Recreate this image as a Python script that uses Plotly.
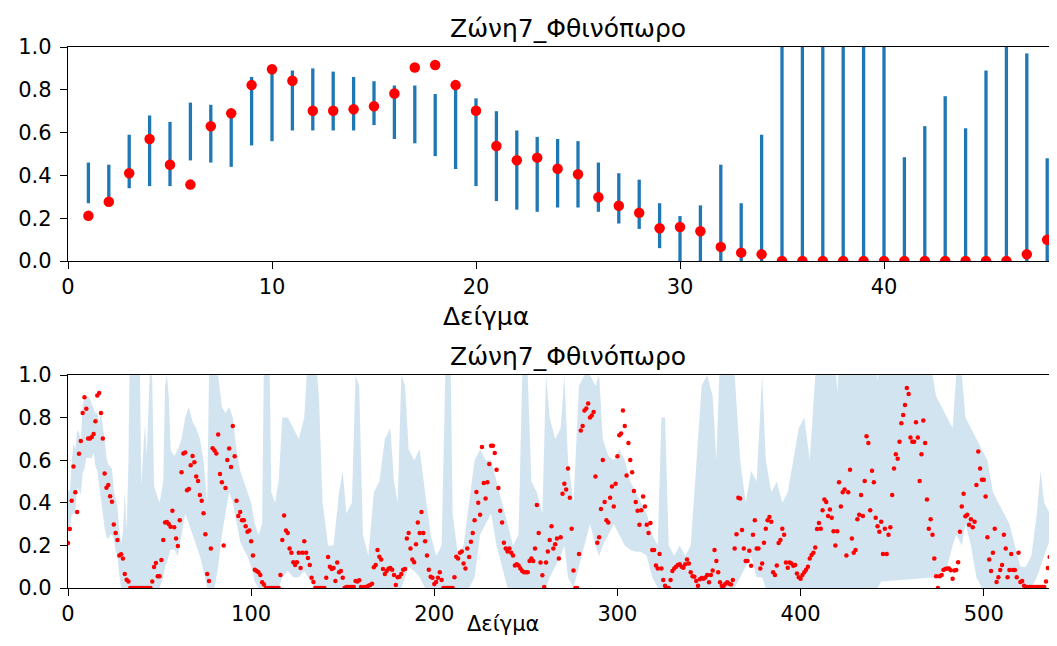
import plotly.graph_objects as go

# ---------------- data: top panel (samples 1..48) ----------------
top_x = list(range(1, 49))
top_mean = [0.211, 0.277, 0.41, 0.57, 0.45, 0.357, 0.63, 0.69, 0.822, 0.896,
            0.842, 0.702, 0.702, 0.709, 0.723, 0.783, 0.904, 0.916, 0.822, 0.702,
            0.537, 0.471, 0.483, 0.431, 0.405, 0.298, 0.258, 0.225, 0.153, 0.159,
            0.139, 0.066, 0.039, 0.031, 0.0, 0.0, 0.0, 0.0, 0.0, 0.0,
            0.0, 0.0, 0.0, 0.0, 0.0, 0.0, 0.031, 0.099]
top_lo = [0.27, 0.28, 0.34, 0.35, 0.35, 0.47, 0.46, 0.44, 0.54, 0.56,
          0.61, 0.61, 0.61, 0.61, 0.635, 0.57, 0.55, 0.49, 0.43, 0.35,
          0.28, 0.24, 0.23, 0.25, 0.25, 0.23, 0.175, 0.15, 0.06, 0.0,
          0.0, 0.0, 0.0, 0.0, 0.0, 0.0, 0.0, 0.0, 0.0, 0.0,
          0.0, 0.0, 0.0, 0.0, 0.0, 0.0, 0.0, 0.0]
top_hi = [0.46, 0.45, 0.59, 0.68, 0.65, 0.74, 0.73, 0.69, 0.86, 0.89,
          0.89, 0.90, 0.885, 0.86, 0.84, 0.82, 0.82, 0.78, 0.82, 0.76,
          0.70, 0.61, 0.58, 0.57, 0.56, 0.46, 0.41, 0.38, 0.27, 0.21,
          0.26, 0.45, 0.27, 0.59, 1.3, 1.25, 1.35, 1.2, 1.3, 1.25,
          0.485, 0.63, 0.77, 0.62, 0.89, 1.1, 0.97, 0.48]

# ---------------- data: bottom panel (samples 0..539) ----------------
bottom_mean = [
    0.211, 0.277, 0.41, 0.57, 0.45, 0.357, 0.63, 0.69, 0.822, 0.896,
    0.842, 0.702, 0.702, 0.709, 0.723, 0.783, 0.904, 0.916, 0.822, 0.702,
    0.537, 0.471, 0.483, 0.431, 0.405, 0.298, 0.258, 0.225, 0.153, 0.159,
    0.139, 0.066, 0.039, 0.031, 0.0, 0.0, 0.0, 0.0, 0.0, 0.0,
    0.0, 0.0, 0.0, 0.0, 0.0, 0.0, 0.031, 0.099,
    0.117, 0.055, 0.055, 0.131, 0.225, 0.308, 0.31, 0.30, 0.287, 0.363,
    0.285, 0.232, 0.197, 0.318, 0.543, 0.631, 0.636, 0.459, 0.465, 0.576,
    0.62, 0.59, 0.523, 0.502, 0.437, 0.41, 0.351, 0.252, 0.066, 0.033,
    0.186, 0.656, 0.645, 0.632, 0.721, 0.535, 0.496, 0.199, 0.469, 0.601,
    0.655, 0.568, 0.761, 0.619, 0.41, 0.338, 0.357, 0.318, 0.318, 0.29,
    0.264, 0.27, 0.219, 0.152, 0.086, 0.08, 0.074, 0.061, 0.027, 0.016,
    0.0, 0.0, 0.0, 0.0, 0.0, 0.0, 0.0, 0.0, 0.061, 0.225,
    0.34, 0.27, 0.258, 0.186, 0.166, 0.121, 0.108, 0.121, 0.166, 0.094,
    0.166, 0.219, 0.166, 0.141, 0.108, 0.048, 0.028, 0.0, 0.0, 0.0,
    0.0, 0.0, 0.0, 0.048, 0.146, 0.1, 0.089, 0.094, 0.033, 0.12,
    0.074, 0.08, 0.048, 0.0, 0.005, 0.005, 0.005, 0.005, 0.005, 0.033,
    0.03, 0.036, 0.005, 0.0, 0.005, 0.005, 0.01, 0.014, 0.02, 0.097,
    0.108, 0.178, 0.147, 0.134, 0.089, 0.066, 0.08, 0.09, 0.094, 0.086,
    0.061, 0.014, 0.05, 0.053, 0.066, 0.086, 0.089, 0.232, 0.258, 0.186,
    0.134, 0.121, 0.205, 0.307, 0.258, 0.357, 0.258, 0.219, 0.152, 0.086,
    0.053, 0.048, 0.019, 0.028, 0.048, 0.074, 0.038, 0.0, 0.0, 0.0,
    0.0, 0.0, 0.0, 0.05, 0.147, 0.139, 0.166, 0.171, 0.115, 0.092,
    0.186, 0.146, 0.217, 0.258, 0.318, 0.451, 0.40, 0.344, 0.662, 0.493,
    0.42, 0.496, 0.582, 0.668, 0.668, 0.634, 0.555, 0.469, 0.363, 0.307,
    0.213, 0.186, 0.171, 0.186, 0.166, 0.152, 0.106, 0.111, 0.106, 0.092,
    0.08, 0.074, 0.074, 0.074, 0.127, 0.139, 0.127, 0.186, 0.39, 0.258,
    0.12, 0.06, 0.005, 0.12, 0.171, 0.225, 0.29, 0.186, 0.205, 0.232,
    0.139, 0.238, 0.443, 0.49, 0.463, 0.561, 0.424, 0.278, 0.082, 0.0,
    0.0, 0.16, 0.74, 0.761, 0.833, 0.843, 0.866, 0.8, 0.81, 0.826,
    0.523, 0.213, 0.238, 0.371, 0.601, 0.404, 0.318, 0.307, 0.424, 0.476,
    0.383, 0.49, 0.619, 0.717, 0.725, 0.833, 0.761, 0.528, 0.681, 0.601,
    0.543, 0.455, 0.404, 0.363, 0.297, 0.365, 0.43, 0.383, 0.297, 0.258,
    0.305, 0.178, 0.178, 0.106, 0.092, 0.16, 0.092, 0.038, 0.01, 0.0,
    0.0, 0.038, 0.08, 0.092, 0.1, 0.108, 0.111, 0.1, 0.095, 0.111,
    0.134, 0.115, 0.074, 0.055, 0.053, 0.033, 0.01, 0.041, 0.047, 0.044,
    0.049, 0.061, 0.027, 0.061, 0.082, 0.178, 0.127, 0.074, 0.027, 0.01,
    0.01, 0.02, 0.027, 0.02, 0.016, 0.038, 0.186, 0.252, 0.424, 0.42,
    0.272, 0.186, 0.127, 0.127, 0.175, 0.104, 0.25, 0.318, 0.186, 0.186,
    0.092, 0.115, 0.213, 0.278, 0.318, 0.333, 0.311, 0.074, 0.061, 0.106,
    0.211, 0.225, 0.278, 0.25, 0.12, 0.095, 0.12, 0.115, 0.104, 0.108,
    0.068, 0.05, 0.044, 0.061, 0.074, 0.086, 0.1, 0.138, 0.155, 0.165,
    0.19, 0.277, 0.305, 0.278, 0.365, 0.416, 0.404, 0.338, 0.369, 0.33,
    0.266, 0.199, 0.266, 0.496, 0.383, 0.449, 0.463, 0.152, 0.449, 0.555,
    0.232, 0.166, 0.178, 0.323, 0.344, 0.437, 0.338, 0.502, 0.713, 0.681,
    0.365, 0.55, 0.496, 0.33, 0.29, 0.264, 0.311, 0.16, 0.278, 0.16,
    0.25, 0.285, 0.437, 0.561, 0.628, 0.607, 0.687, 0.773, 0.812, 0.859,
    0.939, 0.911, 0.707, 0.687, 0.687, 0.778, 0.707, 0.502, 0.628, 0.786,
    0.681, 0.416, 0.278, 0.323, 0.25, 0.139, 0.055, 0.0, 0.055, 0.061,
    0.084, 0.089, 0.092, 0.092, 0.083, 0.044, 0.082, 0.084, 0.121, 0.264,
    0.383, 0.443, 0.337, 0.344, 0.297, 0.323, 0.285, 0.311, 0.484, 0.641,
    0.561, 0.508, 0.508, 0.43, 0.238, 0.134, 0.08, 0.166, 0.278, 0.028,
    0.05, 0.084, 0.108, 0.25, 0.186, 0.05, 0.084, 0.16, 0.084, 0.084,
    0.05, 0.166, 0.028, 0.033, 0.01, 0.005, 0.005, 0.005, 0.005, 0.005,
    0.005, 0.005, 0.005, 0.005, 0.005, 0.005, 0.03, 0.094, 0.146, 0.066,
    0.143, 0.29]

band_x = [0, 1, 2, 3, 4, 5, 6, 7, 8, 9, 10, 11, 12, 13, 14, 15, 16, 17, 18, 19,
          20, 21, 22, 23, 24, 25, 26, 27, 28, 29, 30, 31, 32, 33, 34, 35, 36, 37, 38, 39,
          40, 41, 42, 43, 44, 45, 46, 47,
          48, 50, 52, 53, 54, 55, 56, 58, 60, 62, 64, 66, 68, 70, 72, 74, 76, 77, 80, 82,
          84, 86, 88, 90, 92, 94, 96, 98, 100, 102, 104, 106, 107, 110, 111, 113, 115, 117,
          120, 123, 126, 129, 131, 135, 137, 139, 142, 145, 148, 150, 152, 155, 157, 159,
          161, 164, 167, 170, 173, 176, 178, 180, 182, 184, 186, 189, 192, 195, 198, 201,
          204, 206, 209, 210, 213, 216, 219, 222, 225, 228, 231, 234, 237, 240, 243, 246,
          248, 251, 253, 256, 259, 261, 263, 266, 269, 271, 273, 276, 279, 282, 285, 288,
          290, 292, 295, 298, 301, 304, 307, 310, 313, 316, 319, 322, 324, 326, 328, 331,
          334, 337, 340, 343, 346, 349, 352, 354, 356, 360, 364, 367, 370, 373, 376, 379,
          381, 384, 387, 390, 393, 396, 399, 402, 405, 408, 412, 418, 420, 422, 440, 442,
          444, 470, 472, 474,
          477, 480, 483, 485, 488, 490, 493, 496, 499, 502, 505, 508, 511, 514, 517, 520,
          523, 526, 529, 531, 533, 536, 539]
band_lo = [0.27, 0.28, 0.34, 0.35, 0.35, 0.47, 0.46, 0.44, 0.54, 0.56, 0.61, 0.61, 0.61, 0.61,
           0.635, 0.57, 0.55, 0.49, 0.43, 0.35, 0.28, 0.24, 0.23, 0.25, 0.25, 0.23, 0.175, 0.15,
           0.06, 0.0, 0.0, 0.0, 0.0, 0.0, 0.0, 0.0, 0.0, 0.0, 0.0, 0.0, 0.0, 0.0, 0.0, 0.0,
           0.0, 0.0, 0.0, 0.0,
           0.0, 0.0, 0.05, 0.10, 0.12, 0.15, 0.18, 0.18, 0.15, 0.25, 0.35, 0.30, 0.25, 0.20,
           0.15, 0.08, 0.0, 0.0, 0.0, 0.1, 0.25, 0.35, 0.45, 0.40, 0.30, 0.22, 0.18, 0.15,
           0.10, 0.03, 0.0, 0.0, 0.0, 0.0, 0.0, 0.0, 0.0, 0.05, 0.08, 0.05, 0.05, 0.08, 0.05,
           0.0, 0.0, 0.0, 0.0, 0.0, 0.0, 0.0, 0.0, 0.0, 0.0, 0.0, 0.0, 0.0, 0.0, 0.0, 0.0,
           0.0, 0.0, 0.0, 0.0, 0.05, 0.10, 0.08, 0.05, 0.0, 0.0, 0.0, 0.0, 0.0, 0.0, 0.0,
           0.0, 0.0, 0.0, 0.05, 0.25, 0.30, 0.35, 0.20, 0.10, 0.0, 0.0, 0.0, 0.0, 0.0, 0.0,
           0.0, 0.0, 0.0, 0.05, 0.10, 0.15, 0.20, 0.05, 0.0, 0.10, 0.20, 0.30, 0.20, 0.15,
           0.20, 0.25, 0.30, 0.25, 0.20, 0.18, 0.17, 0.17, 0.15, 0.05, 0.0, 0.0, 0.0, 0.0,
           0.0, 0.0, 0.0, 0.0, 0.0, 0.0, 0.0, 0.0, 0.0, 0.0, 0.0, 0.0, 0.05, 0.10, 0.15,
           0.05, 0.05, 0.0, 0.0, 0.0, 0.0, 0.0, 0.0, 0.0, 0.0, 0.0, 0.0, 0.0, 0.0, 0.0,
           0.0, 0.0, 0.0, 0.03,
           0.05, 0.05, 0.05, 0.08, 0.10, 0.20, 0.25, 0.20, 0.30, 0.20, 0.05, 0.0, 0.0, 0.0,
           0.0, 0.0, 0.0, 0.0, 0.0, 0.0, 0.0, 0.05, 0.10]
band_hi = [0.46, 0.45, 0.59, 0.68, 0.65, 0.74, 0.73, 0.69, 0.86, 0.89, 0.89, 0.90, 0.885, 0.86,
           0.84, 0.82, 0.82, 0.78, 0.82, 0.76, 0.70, 0.61, 0.58, 0.57, 0.56, 0.46, 0.41, 0.38,
           0.27, 0.21, 0.26, 0.45, 0.27, 0.59, 1.3, 1.25, 1.35, 1.2, 1.3, 1.25, 0.485, 0.63,
           0.77, 0.62, 0.89, 1.1, 0.97, 0.48,
           0.45, 0.40, 0.50, 0.95, 1.0, 0.90, 0.65, 0.62, 0.65, 0.70, 0.80, 0.85, 0.78, 0.75,
           0.70, 0.60, 0.40, 1.0, 1.2, 1.0, 0.85, 0.82, 0.85, 0.80, 0.65, 0.55, 0.50, 0.45,
           0.40, 0.30, 0.25, 0.30, 1.1, 1.1, 0.45, 0.40, 0.50, 0.80, 0.80, 0.75, 0.70, 0.80,
           1.1, 1.1, 0.90, 0.40, 0.20, 0.20, 0.45, 0.55, 0.35, 0.40, 1.0, 0.95, 0.25, 0.15,
           0.45, 0.50, 0.70, 0.75, 0.50, 0.40, 1.0, 0.95, 0.65, 0.60, 0.65, 0.45, 0.25, 0.15,
           0.20, 1.0, 1.0, 0.35, 0.15, 0.20, 0.40, 0.60, 0.65, 0.60, 0.60, 0.50, 0.40, 0.30,
           0.20, 0.25, 1.0, 1.0, 0.50, 0.45, 0.35, 1.0, 0.80, 0.70, 0.75, 1.0, 0.60, 0.40,
           0.95, 1.0, 1.0, 0.95, 1.0, 0.70, 0.62, 0.60, 0.65, 0.60, 0.50, 0.45, 0.40, 0.35,
           0.25, 0.20, 0.80, 0.80, 0.20, 0.15, 0.20, 0.15, 0.20, 0.60, 0.95, 1.0, 0.90, 0.60,
           1.1, 1.1, 1.0, 0.60, 0.40, 0.55, 0.50, 1.0, 0.60, 0.45, 0.50, 0.40, 0.45, 0.60,
           0.75, 0.80, 0.60, 1.0, 1.2, 1.2, 0.92, 1.2, 1.2, 0.97,
           1.2, 1.2, 1.0, 0.90,
           0.85, 0.80, 0.75, 1.0, 1.0, 0.80, 0.75, 0.70, 0.65, 0.60, 0.45, 0.40, 0.35, 0.30,
           0.20, 0.10, 0.10, 0.15, 0.35, 0.55, 0.40, 0.35, 0.30]

title_text = "Ζώνη7_Φθινόπωρο"
xlabel_text = "Δείγμα"
top_xticks = [0, 10, 20, 30, 40]
bottom_xticks = [0, 100, 200, 300, 400, 500]
yticks = [0.0, 0.2, 0.4, 0.6, 0.8, 1.0]

BLUE = "#1f77b4"
FONT = "DejaVu Sans"

# vertical interval lines for the top panel, built from the arrays
seg_x, seg_y = [], []
for xv, lo, hi in zip(top_x, top_lo, top_hi):
    seg_x += [xv, xv, None]
    seg_y += [lo, hi, None]

fig = go.Figure()
fig.add_trace(go.Scatter(x=seg_x, y=seg_y, mode="lines",
                         line=dict(color=BLUE, width=3.3),
                         xaxis="x", yaxis="y", showlegend=False, hoverinfo="skip"))
fig.add_trace(go.Scatter(x=top_x, y=top_mean, mode="markers",
                         marker=dict(color="red", size=10.5),
                         xaxis="x", yaxis="y", showlegend=False))

fig.add_trace(go.Scatter(x=band_x, y=band_lo, mode="lines", line=dict(width=0),
                         xaxis="x2", yaxis="y2", showlegend=False, hoverinfo="skip"))
fig.add_trace(go.Scatter(x=band_x, y=band_hi, mode="lines", line=dict(width=0),
                         fill="tonexty", fillcolor="rgba(31,119,180,0.2)",
                         xaxis="x2", yaxis="y2", showlegend=False, hoverinfo="skip"))
fig.add_trace(go.Scatter(x=list(range(len(bottom_mean))), y=bottom_mean, mode="markers",
                         marker=dict(color="red", size=4.5),
                         xaxis="x2", yaxis="y2", showlegend=False))

axis_common = dict(showline=True, linecolor="black", linewidth=1.3, ticks="outside",
                   ticklen=7, tickwidth=1.2, tickcolor="black", showgrid=False,
                   zeroline=False, automargin=False,
                   tickfont=dict(family=FONT, size=21, color="black"))

# the page body adds an 8 px offset; screen coordinates below are those of the target
OFF = 8
W, H = 1057 - 2 * OFF, 646 - 2 * OFF
L = 68 - OFF
RIGHT = 1049  # right edge of the visible plot area on screen


def dom_y(top_px, bot_px):
    return [1 - (bot_px - OFF) / H, 1 - (top_px - OFF) / H]


yfmt = dict(range=[0, 1], tickvals=yticks, ticktext=[f"{v:.1f}" for v in yticks],
            mirror=False, ticklabelstandoff=4)

fig.update_layout(
    width=W, height=H,
    margin=dict(l=L, r=0, t=0, b=0, autoexpand=False),
    paper_bgcolor="white", plot_bgcolor="white",
    xaxis=dict(domain=[0, 1], anchor="y", range=[0, (RIGHT - 68) / 20.4],
               tickvals=top_xticks, mirror=True, **axis_common),
    yaxis=dict(domain=dom_y(47, 261), anchor="x", **yfmt, **axis_common),
    xaxis2=dict(domain=[0, 1], anchor="y2", range=[0, (RIGHT - 68) / 1.8315],
                tickvals=bottom_xticks, mirror=True, **axis_common),
    yaxis2=dict(domain=dom_y(375, 588), anchor="x2", **yfmt, **axis_common),
)


def px_x(p):
    return (p - 68) / (W - L)


def px_y(p):
    return 1 - (p - OFF) / H


annots = [
    (title_text, 568, 28, 25, "middle"),
    (xlabel_text, 486, 316, 25, "middle"),
    (title_text, 568, 356, 25, "middle"),
    (xlabel_text, 503, 638, 21, "bottom"),
]
for txt, ax, ay, fs, ya in annots:
    fig.add_annotation(text=txt, x=px_x(ax), y=px_y(ay), xref="paper", yref="paper",
                       showarrow=False, xanchor="center", yanchor=ya,
                       font=dict(family=FONT, size=fs, color="black"))

fig.write_html("out.html")
